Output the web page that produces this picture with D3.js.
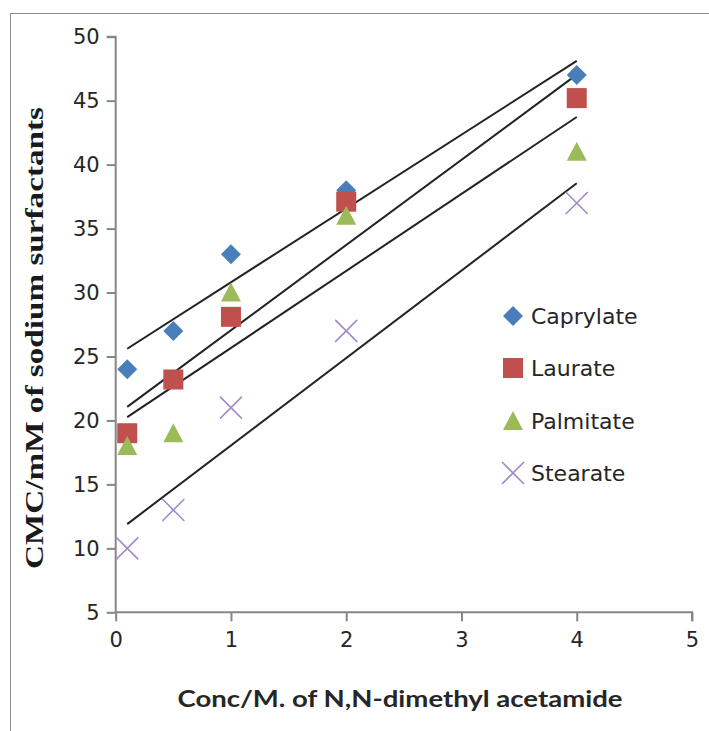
<!DOCTYPE html>
<html>
<head>
<meta charset="utf-8">
<script src="https://cdn.jsdelivr.net/npm/d3@7"></script>
<style>
  html, body { margin: 0; padding: 0; background: #fff; }
  svg { display: block; }
</style>
</head>
<body>
<svg id="chart" width="709" height="731"></svg>
<script>
// Concentration of N,N-dimethyl acetamide (M)
const concentrations = [0.1, 0.5, 1, 2, 4];
// CMC (mM) for each sodium surfactant
const caprylate = [24, 27, 33, 38, 47];
const laurate   = [19, 23.2, 28.1, 37.1, 45.2];
const palmitate = [18, 19, 30, 36, 41];
const stearate  = [10, 13, 21, 27, 37];

const seriesNames = ["Caprylate", "Laurate", "Palmitate", "Stearate"];
const xTicks = [0, 1, 2, 3, 4, 5];
const yTicks = [5, 10, 15, 20, 25, 30, 35, 40, 45, 50];

const series = [
  { name: seriesNames[0], values: caprylate, shape: "diamond",  color: "#4a7ebb" },
  { name: seriesNames[1], values: laurate,   shape: "square",   color: "#c0504d" },
  { name: seriesNames[2], values: palmitate, shape: "triangle", color: "#9bbb59" },
  { name: seriesNames[3], values: stearate,  shape: "cross",    color: "#a08cc8" }
];

const svg = d3.select("#chart");

// outer chart frame
svg.append("rect")
  .attr("x", 10.5).attr("y", 13.5)
  .attr("width", 900).attr("height", 900)
  .attr("fill", "none").attr("stroke", "#8c8c8c").attr("stroke-width", 1);

const x = d3.scaleLinear().domain([0, 5]).range([115.7, 692]);
const y = d3.scaleLinear().domain([5, 50]).range([612.3, 36.7]);

const axisColor = "#868686";
const tickFont = "'DejaVu Sans', sans-serif";

// y axis
const yAxis = svg.append("g")
  .attr("transform", `translate(${x(0)},0)`)
  .call(d3.axisLeft(y).tickValues(yTicks).tickSize(9).tickPadding(7).tickFormat(d3.format("d")));
// x axis
const xAxis = svg.append("g")
  .attr("transform", `translate(0,${y(5)})`)
  .call(d3.axisBottom(x).tickValues(xTicks).tickSize(9).tickPadding(11).tickFormat(d3.format("d")));

[yAxis, xAxis].forEach(g => {
  g.select(".domain").attr("stroke", axisColor).attr("stroke-width", 2);
  g.selectAll(".tick line").attr("stroke", axisColor).attr("stroke-width", 2);
  g.selectAll(".tick text")
    .attr("fill", "#262626")
    .style("font-family", tickFont)
    .style("font-size", "21px");
});
yAxis.select(".domain").attr("d", `M-9,${y(50)}H0V${y(5)}`);
xAxis.select(".domain").attr("d", `M${x(0)},0H${x(5)}V9`);

// linear trend lines (least squares over each series)
function fit(xs, ys) {
  const mx = d3.mean(xs), my = d3.mean(ys);
  let sxy = 0, sxx = 0;
  xs.forEach((v, i) => { sxy += (v - mx) * (ys[i] - my); sxx += (v - mx) * (v - mx); });
  const m = sxy / sxx;
  return { m, b: my - m * mx };
}

const xMin = d3.min(concentrations), xMax = d3.max(concentrations);
series.forEach(s => {
  const { m, b } = fit(concentrations, s.values);
  svg.append("line")
    .attr("x1", x(xMin)).attr("y1", y(m * xMin + b))
    .attr("x2", x(xMax)).attr("y2", y(m * xMax + b))
    .attr("stroke", "#222").attr("stroke-width", 2);
});

// marker shapes
function marker(g, shape, color) {
  if (shape === "diamond") {
    g.append("path").attr("d", "M0,-10L10,0L0,10L-10,0Z").attr("fill", color);
  } else if (shape === "square") {
    g.append("rect").attr("x", -10).attr("y", -10).attr("width", 20).attr("height", 20).attr("fill", color);
  } else if (shape === "triangle") {
    g.append("path").attr("d", "M0,-10L10,9L-10,9Z").attr("fill", color);
  } else {
    g.append("path").attr("d", "M-11,-11L11,11M-11,11L11,-11")
      .attr("stroke", color).attr("stroke-width", 1.6).attr("fill", "none");
  }
}

series.forEach(s => {
  s.values.forEach((v, i) => {
    const g = svg.append("g").attr("transform", `translate(${x(concentrations[i])},${y(v)})`);
    marker(g, s.shape, s.color);
  });
});

// legend
const legendRows = [316, 368, 421, 473];
series.forEach((s, i) => {
  const g = svg.append("g").attr("transform", `translate(513,${legendRows[i]})`);
  marker(g, s.shape, s.color);
  g.append("text")
    .attr("x", 18).attr("y", 0).attr("dy", "0.36em")
    .attr("fill", "#262626")
    .style("font-family", tickFont)
    .style("font-size", "22px")
    .text(s.name);
});

// axis titles
svg.append("text")
  .attr("x", 400).attr("y", 707)
  .attr("text-anchor", "middle")
  .attr("fill", "#262626")
  .style("font-family", "Lato, sans-serif")
  .style("font-weight", "bold")
  .style("font-size", "23px")
  .attr("textLength", 445).attr("lengthAdjust", "spacingAndGlyphs")
  .text("Conc/M. of N,N-dimethyl acetamide");

svg.append("text")
  .attr("transform", "translate(43,338) rotate(-90)")
  .attr("text-anchor", "middle")
  .attr("fill", "#1a1a1a")
  .style("font-family", "'Liberation Serif', serif")
  .style("font-weight", "bold")
  .style("font-size", "26px")
  .attr("textLength", 462).attr("lengthAdjust", "spacingAndGlyphs")
  .text("CMC/mM  of sodium  surfactants");
</script>
</body>
</html>
